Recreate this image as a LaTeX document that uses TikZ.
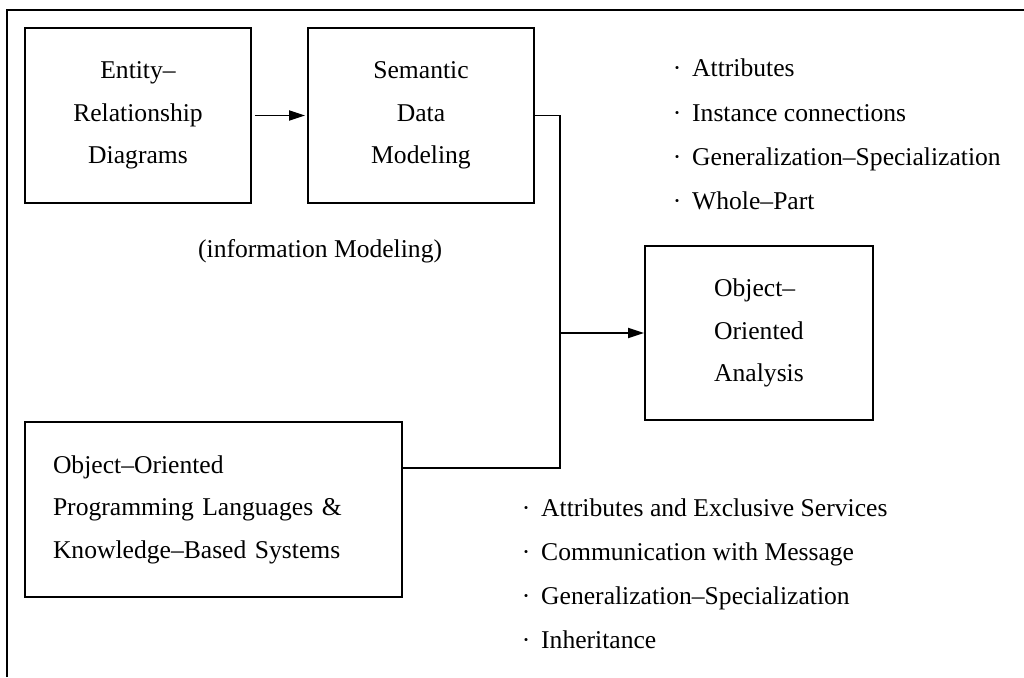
\documentclass[tikz,border=0pt]{standalone}
\usepackage{fontspec}
\setmainfont{Liberation Serif}
\usetikzlibrary{arrows.meta}
\newcommand\bulmark{\hbox to 0pt{\hss·\hskip0.42em}}
\begin{document}
\begin{tikzpicture}[x=1pt,y=-1pt,
  box/.style={draw,line width=1.9pt,rectangle,inner sep=0pt},
  lbl/.style={font=\fontsize{25.6}{42.5}\selectfont},
  conn/.style={line width=1.9pt},
  arr/.style={conn,-{Triangle[length=16pt,width=10pt]}},
  item/.style={lbl,anchor=base west,inner sep=0pt}]
\useasboundingbox (0,0) rectangle (1024,677);
% outer frame
\draw[line width=1.9pt] (7,677) -- (7,10) -- (1024,10);
% boxes
\node[box,lbl,align=center,minimum width=226pt,minimum height=175pt] (er) at (138,115.5) {Entity–\\Relationship\\Diagrams};
\node[box,lbl,align=center,minimum width=226pt,minimum height=175pt] (sem) at (421,115.5) {Semantic\\Data\\Modeling};
\node[box,lbl,align=left,minimum width=228pt,minimum height=174pt] (ooa) at (759,333) {Object–\\Oriented\\Analysis};
\node[box,lbl,align=left,minimum width=377pt,minimum height=175pt,text width=321pt,inner xsep=28pt] (oop) at (213.5,509.5) {Object–Oriented\\Programming Languages \&\\Knowledge–Based Systems};
% label
\node[item] (info) at (198,257) {(information Modeling)};
% lists
\foreach \t [count=\i] in {Attributes,Instance connections,Generalization–Specialization,Whole–Part}
  \node[item] (top\i) at (692,{33+44*\i}) {\bulmark\t};
\foreach \t [count=\i] in {Attributes and Exclusive Services,Communication with Message,Generalization–Specialization,Inheritance}
  \node[item] (bot\i) at (541,{472+44*\i}) {\bulmark\t};
% connectors
\coordinate (bend) at (560,468);
\draw[arr,shorten <=3pt,shorten >=2pt] (er.east) -- (sem.west);
\draw[conn] (sem.east) -| (bend) -- (oop.east |- bend);
\draw[arr] (bend |- ooa.west) -- (ooa.west);
\end{tikzpicture}
\end{document}
